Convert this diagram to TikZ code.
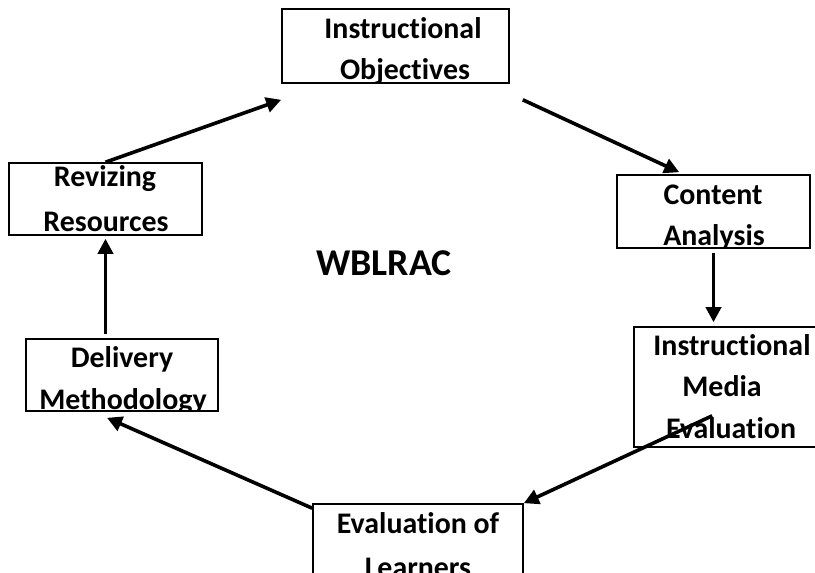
\documentclass[tikz,border=0pt]{standalone}
\usepackage{fontspec}
\setmainfont{Carlito}[Ligatures=NoCommon]
\usetikzlibrary{arrows.meta,calc}

\begin{document}
\begin{tikzpicture}[x=1bp,y=-1bp,
  stagebox/.style={draw,line width=1.6bp,inner sep=0pt},
  lbl/.style={anchor=base,inner sep=0pt,font=\fontsize{30}{36}\selectfont\bfseries},
  title/.style={anchor=base,inner sep=0pt,font=\fontsize{38}{45}\selectfont\bfseries},
  flow/.style={line width=3.6bp,-{Triangle[length=15bp,width=15bp]}}]
\useasboundingbox (0,0) rectangle (815,573);

% Instructional Objectives
\begin{scope}
  \clip (282,9) rectangle (509,83);
  \node[lbl] (a1) at (403,39) {Instructional};
  \node[lbl] (a2) at (405,80) {Objectives};
\end{scope}
\node[stagebox,minimum width=227bp,minimum height=74bp] (A) at (395.5,46) {};

% Content Analysis
\begin{scope}
  \clip (617,175) rectangle (810,248);
  \node[lbl] (b1) at (713,205) {Content};
  \node[lbl] (b2) at (714,245) {Analysis};
\end{scope}
\node[stagebox,minimum width=193bp,minimum height=73bp] (B) at (713.5,211.5) {};

% Instructional Media Evaluation
\begin{scope}
  \clip (634,327) rectangle (818,447);
  \node[lbl] (c1) at (732,355) {Instructional};
  \node[lbl] (c2) at (722,396) {Media};
  \node[lbl] (c3) at (731,438) {Evaluation};
\end{scope}
\node[stagebox,minimum width=184bp,minimum height=120bp] (C) at (726,387) {};

% Evaluation of Learners (lower edge runs past the page)
\begin{scope}
  \clip (313,504) rectangle (523,600);
  \node[lbl] (d1) at (418,533) {Evaluation of};
  \node[lbl] (d2) at (418,577) {Learners};
\end{scope}
\node[stagebox,minimum width=210bp,minimum height=96bp] (D) at (418,552) {};

% Delivery Methodology
\begin{scope}
  \clip (26,339) rectangle (218,411);
  \node[lbl] (e1) at (122,367) {Delivery};
  \node[lbl] (e2) at (123,409) {Methodology};
\end{scope}
\node[stagebox,minimum width=192bp,minimum height=72bp] (E) at (122,375) {};

% Revizing Resources
\begin{scope}
  \clip (9,163) rectangle (202,235);
  \node[lbl] (f1) at (105,187) {Revizing};
  \node[lbl] (f2) at (106,232) {Resources};
\end{scope}
\node[stagebox,minimum width=193bp,minimum height=72bp] (F) at (105.5,199) {};

% centre label
\node[title] (T) at (384,275) {WBLRAC};

% cycle connectors
\draw[flow] (F.north) -- ($(A.south west)+(0,16)$);
\draw[flow] ($(A.south east)+(13,16)$) -- ($(B.north west)+(63,-2)$);
\draw[flow] ($(B.south)+(0,4)$) -- ($(B.south |- C.north)+(0,-4)$);
\draw[flow] ($(C.south west)+(79,-32)$) -- (D.north east);
\draw[flow] ($(D.north west)+(0,5)$) -- ($(E.south)+(-15,6)$);
\draw[flow] ($(E.north -| F.south)+(0,-4)$) -- ($(F.south)+(0,3)$);
\end{tikzpicture}
\end{document}
